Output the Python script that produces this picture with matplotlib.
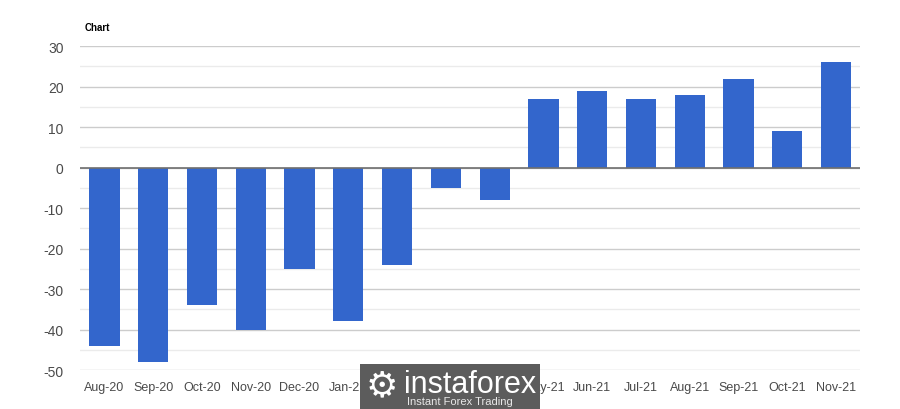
import numpy as np
import matplotlib
matplotlib.use("Agg")
import matplotlib.pyplot as plt
from matplotlib.ticker import MultipleLocator
from matplotlib.patches import Rectangle

months = ["Aug-20", "Sep-20", "Oct-20", "Nov-20", "Dec-20", "Jan-21", "Feb-21", "Mar-21",
          "Apr-21", "May-21", "Jun-21", "Jul-21", "Aug-21", "Sep-21", "Oct-21", "Nov-21"]
values = [-44, -48, -34, -40, -25, -38, -24, -5, -8, 17, 19, 17, 18, 22, 9, 26]
yticks = [30, 20, 10, 0, -10, -20, -30, -40, -50]

plt.rcParams['font.family'] = ['Liberation Sans', 'DejaVu Sans']
plt.rcParams['axes.unicode_minus'] = False

fig = plt.figure(figsize=(9, 4.1), dpi=100)
ax = fig.add_axes([0.089, 0.095, 0.867, 0.79])

x = np.arange(len(months))
ax.bar(x, values, width=0.62, color='#3366cc', zorder=3)

ax.set_xlim(-0.5, len(months) - 0.5)
ax.set_ylim(-50, 30)
ax.set_yticks(yticks)
ax.yaxis.set_minor_locator(MultipleLocator(5))
ax.set_xticks(x)
ax.set_xticklabels(months)

ax.grid(axis='y', which='major', color='#cccccc', linewidth=1, zorder=0)
ax.grid(axis='y', which='minor', color='#ebebeb', linewidth=1, zorder=0)
ax.axhline(0, color='#6f6f6f', linewidth=1.2, zorder=4)

for s in ax.spines.values():
    s.set_visible(False)
ax.tick_params(axis='both', which='both', length=0, colors='#4a4a4a', labelsize=9)
ax.tick_params(axis='y', pad=12, labelsize=10)
ax.tick_params(axis='x', pad=8)

fig.text(0.094, 0.925, "Chart", fontsize=7, fontweight='bold', color='black')

# watermark over the middle x labels
fig.patches.append(Rectangle((360 / 900, 0), 180 / 900, 45 / 410, transform=fig.transFigure,
                             facecolor='#5c5c5c', edgecolor='none', zorder=10))
fig.text(382 / 900, 24 / 410, "\u2699", fontsize=26, color='white', ha='center', va='center',
         family='DejaVu Sans', zorder=11)
fig.text(404 / 900, 25 / 410, "instaforex", fontsize=22, color='white', ha='left', va='center', zorder=11)
fig.text(407 / 900, 8 / 410, "Instant Forex Trading", fontsize=8, color='#e8e8e8', ha='left', va='center', zorder=11)

plt.savefig("out.png", dpi=100)
